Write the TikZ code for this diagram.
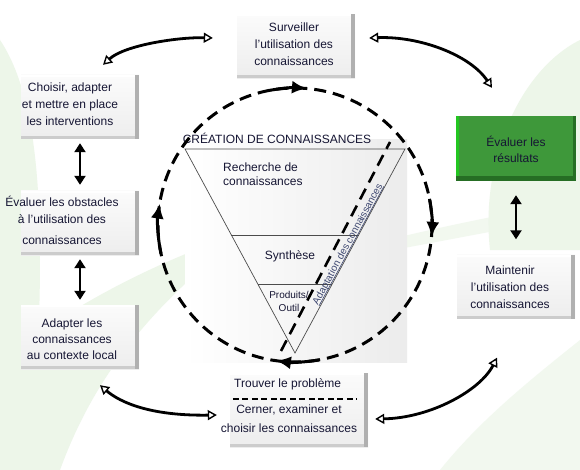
\documentclass[tikz,border=0pt]{standalone}
\usepackage{xcolor}
\usepackage{fontspec}
\setmainfont{Liberation Sans}
\usepackage{tikz}
\usetikzlibrary{arrows.meta,calc,positioning}
\definecolor{ink}{RGB}{22,22,52}
\definecolor{evalgreen}{RGB}{62,152,58}
\definecolor{evaldark}{RGB}{38,110,36}
\definecolor{bgleaf}{RGB}{237,246,233}
\definecolor{adaptblue}{RGB}{60,70,112}

\begin{document}
\begin{tikzpicture}[x=1pt,y=-1pt,
  box/.style={minimum width=118pt,minimum height=64pt,inner sep=0pt,top color=gray!3,bottom color=gray!14,
    path picture={
      \fill[white] (path picture bounding box.north west) rectangle ([yshift=-2pt]path picture bounding box.north east);
      \fill[gray!40] ([yshift=3pt]path picture bounding box.south west) rectangle (path picture bounding box.south east);
      \fill[gray!62] ([xshift=-4pt]path picture bounding box.north east) rectangle (path picture bounding box.south east);}},
  greenbox/.style={minimum width=120pt,minimum height=65pt,inner sep=0pt,fill=evalgreen,
    path picture={
      \fill[green!45!evalgreen] (path picture bounding box.north west) rectangle ([xshift=3pt]path picture bounding box.south west);
      \fill[evaldark] ([yshift=5pt]path picture bounding box.south west) rectangle (path picture bounding box.south east);
      \fill[evaldark] ([xshift=-3pt]path picture bounding box.north east) rectangle (path picture bounding box.south east);}},
  txt/.style={font=\fontsize{12}{17}\selectfont,text=ink,align=center,inner sep=0pt},
  cycdash/.style={line width=3pt,dash pattern=on 12pt off 7pt},
  cyctip/.style={line width=3pt,-{Latex[length=15pt,width=13pt]}},
  dbl/.style={line width=2.6pt,{Triangle[length=9pt,width=11pt]}-{Triangle[length=9pt,width=11pt]}},
  swing/.style={line width=2.8pt,{Triangle[fill=white,length=9pt,width=10pt,line width=1.4pt]}-{Triangle[fill=white,length=9pt,width=10pt,line width=1.4pt]}}]
  \useasboundingbox[fill=white] (0,0) rectangle (580,470);
  % background leaves
  \fill[bgleaf] (0,470) -- (0,360) .. controls (80,300) and (160,260) .. (250,230) .. controls (170,290) and (100,360) .. (60,470) -- cycle;
  \fill[bgleaf] (0,40) .. controls (40,100) and (50,220) .. (30,470) -- (0,470) -- cycle;
  \fill[bgleaf] (580,40) .. controls (520,70) and (480,160) .. (490,250) -- (580,250) -- cycle;
  \fill[bgleaf,opacity=.7] (330,255) .. controls (420,230) and (500,215) .. (580,200) -- (580,215) .. controls (500,230) and (420,245) .. (330,262) -- cycle;
  \fill[bgleaf,opacity=.7] (440,470) .. controls (480,420) and (530,380) .. (580,340) -- (580,470) -- cycle;
  % creation de connaissances
  \shade[left color=white,right color=gray!15] (185,140) rectangle (407,362);
  \coordinate (tl) at (185,149);
  \coordinate (tr) at (405,149);
  \coordinate (tb) at (295,353);
  \draw[line width=0.7pt,gray!60!black] (tl) -- (tr) -- (tb) -- cycle;
  \draw[line width=0.7pt,gray!60!black] ($(tl)!0.4216!(tb)$) -- ($(tr)!0.4216!(tb)$);
  \draw[line width=0.7pt,gray!60!black] ($(tl)!0.6618!(tb)$) -- ($(tr)!0.6618!(tb)$);
  \node[txt] (creat) at (277,138) {CRÉATION DE CONNAISSANCES};
  \node[txt,font=\fontsize{12}{14}\selectfont,align=left,anchor=west] (rech) at (223,174) {Recherche de\\connaissances};
  \node[txt] (synth) at (290,256) {Synthèse};
  \node[txt,font=\fontsize{10}{13}\selectfont] (prod) at (289,301) {Produits/\\Outil};
  \coordinate (adA) at (281,351);
  \coordinate (adB) at (390,142);
  \draw[cycdash,line width=2.6pt] (adA) -- (adB);
  \node[rotate=61.5,inner sep=0pt,anchor=base,font=\fontsize{10}{12}\selectfont,text=adaptblue] (adtxt) at (350.3,245.5) {Adaptation des connaissances};
  \draw[adaptblue,line width=0.6pt] ($(adtxt.base west)!1.3pt!-90:(adtxt.base east)$) -- ($(adtxt.base east)!1.3pt!90:(adtxt.base west)$);
  % cycle
  \coordinate (cyc) at (295,225);
  \draw[cycdash] (cyc) circle[radius=137];
  \draw[cyctip] (cyc) ++(-101:137) arc[start angle=-101,end angle=-85,radius=137];
  \draw[cyctip] (cyc) ++(-11:137) arc[start angle=-11,end angle=5,radius=137];
  \draw[cyctip] (cyc) ++(80:137) arc[start angle=80,end angle=98,radius=137];
  \draw[cyctip] (cyc) ++(168:137) arc[start angle=168,end angle=189,radius=137];
  % boxes
  \node[box] (surv) at (296,46.5) {};
  \node[txt] (survt) at (294,44) {Surveiller\\l’utilisation des\\connaissances};
  \node[box] (choi) at (80,107) {};
  \node[txt] (choit) at (70,104) {Choisir, adapter\\et mettre en place\\les interventions};
  \node[box] (obst) at (80,223) {};
  \node[txt] (obstt) at (62,220) {Évaluer les obstacles\\à l’utilisation des\\[4pt]connaissances};
  \node[box] (adap) at (80,337) {};
  \node[txt,font=\fontsize{12}{16}\selectfont] (adapt) at (72,339) {Adapter les\\connaissances\\au contexte local};
  \node[box,minimum width=138pt,minimum height=74pt] (trouv) at (299,410) {};
  \node[txt,anchor=west] (trouvt) at (234,384) {Trouver le problème};
  \draw[line width=1.3pt,dash pattern=on 6pt off 3.5pt] ([xshift=3pt,yshift=11pt]trouv.west) -- ([xshift=-11pt,yshift=11pt]trouv.east);
  \node[txt,font=\fontsize{12}{19}\selectfont] (cernt) at (289,418.5) {Cerner, examiner et\\choisir les connaissances};
  \node[box] (maint) at (516,286.5) {};
  \node[txt] (maintt) at (510,287) {Maintenir\\l’utilisation des\\connaissances};
  \node[greenbox] (evres) at (516,148.5) {};
  \node[txt,font=\fontsize{12}{16}\selectfont] (evrest) at (516,149) {Évaluer les\\résultats};
  % links
  \draw[dbl] ([yshift=-4pt]choi.south) -- ([yshift=6pt]obst.north);
  \draw[dbl] ([yshift=-4pt]obst.south) -- ([yshift=5pt]adap.north);
  \draw[dbl] ([yshift=-14pt]evres.south) -- ([yshift=15pt]maint.north);
  \draw[swing] ([xshift=23pt,yshift=10pt]choi.north) .. controls +(22,-20) and +(-33,-1) .. ([xshift=-24pt,yshift=8.5pt]surv.west);
  \draw[swing] ([xshift=14pt,yshift=8.5pt]surv.east) .. controls +(50,-2) and +(-22,-33) .. ([xshift=-24pt,yshift=28pt]evres.north);
  \draw[swing] ([xshift=20pt,yshift=-16pt]adap.south) .. controls +(20,17) and +(-67,1) .. ([xshift=-13pt,yshift=-5pt]trouv.west);
  \draw[swing] ([xshift=7pt,yshift=-9pt]trouv.east) .. controls +(55,-1) and +(-17,33) .. ([xshift=-19pt,yshift=-39pt]maint.south);
\end{tikzpicture}
\end{document}
